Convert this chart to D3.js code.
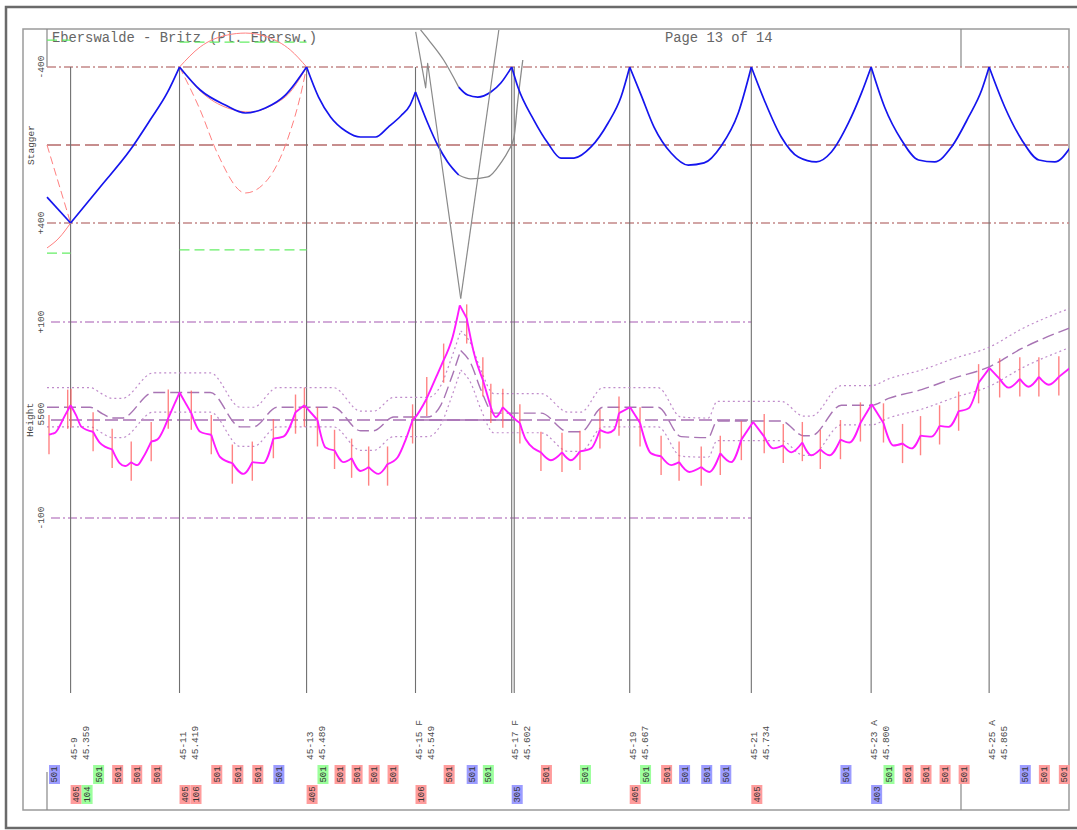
<!DOCTYPE html>
<html>
<head>
<meta charset="utf-8">
<script src="https://cdn.jsdelivr.net/npm/d3@7"></script>
<style>
  body { margin: 0; background: #fff; }
  svg { display: block; }
  text { font-family: "Liberation Mono", "DejaVu Sans Mono", monospace; fill: #4a4a4a; }
</style>
</head>
<body>
<svg id="chart" width="1077" height="830"></svg>
<script>
// ---- page text ----
const title = 'Eberswalde - Britz (Pl. Ebersw.)';
const pageLabel = 'Page 13 of 14';

// ---- masts (chainage in m) ----
const mastAt   = [45359, 45419, 45489, 45549, 45602, 45667, 45734, 45800, 45865];
const mastName = ['45-9', '45-11', '45-13', '45-15 F', '45-17 F', '45-19', '45-21', '45-23 A', '45-25 A'];
const mastKm   = ['45.359', '45.419', '45.489', '45.549', '45.602', '45.667', '45.734', '45.800', '45.865'];
// codes at the mast foot: [code, kind]  kind 1 red, 2 blue, 3 green
const mastCodes = [
  [['405', 1], ['104', 3]], [['405', 1], ['106', 1]], [['405', 1]], [['106', 1]],
  [['305', 2]], [['405', 1]], [['405', 1]], [['403', 2]], []
];
const doubleMast = ['45-17 F'];

// ---- stagger (mm) ----
const staggerTicks = [-400, 400];
const wireA = [[45346, 267], [45359, 400], [45375.3, 215], [45391.8, 26], [45402.8, -128], [45412.2, -267],
  [45419, -400], [45430.4, -282], [45444.2, -205], [45455.3, -164], [45466.3, -190], [45477.3, -256],
  [45489, -400], [45495.6, -246], [45502.2, -144], [45510.5, -72], [45518.7, -41], [45527, -41],
  [45534, -92], [45541, -150], [45546, -205], [45549, -272], [45555.7, -113], [45561.2, 0], [45566.7, 87], [45572.8, 154]];
const wireAOut = [[45572.8, 154], [45579.4, 174], [45588.8, 164], [45596, 92], [45600.4, 26],
  [45603.2, -36], [45605.4, -231], [45608.1, -436]];
const wireBIn = [[45551.8, -590], [45556.3, -538], [45564.5, -436], [45572.8, -297]];
const wireB = [[45572.8, -297], [45577.8, -256], [45583.3, -246], [45590.5, -272], [45596, -318], [45602, -400],
  [45605.4, -297], [45614.2, -128], [45621.9, -10], [45629.1, 67], [45636.3, 67], [45645.7, 10],
  [45655.1, -113], [45662.2, -246], [45667, -400], [45673.3, -256], [45680.4, -92], [45689.8, 41],
  [45699.2, 103], [45708, 92], [45717.4, 5], [45726.8, -164], [45734, -400], [45741.1, -231],
  [45750.5, -41], [45759.9, 62], [45769.8, 87], [45778.1, 36], [45787.5, -113], [45794.7, -267],
  [45800, -400], [45807.4, -195], [45816.7, -26], [45826.1, 77], [45835, 87], [45844.3, 10],
  [45853.7, -144], [45860.9, -282], [45865, -400], [45873.6, -195], [45883, -26], [45892.4, 77],
  [45901.2, 87], [45909.5, 15]];
// wind deflection envelopes
const windOuter = [[45419, -400], [45430.4, -503], [45445.3, -564], [45455.3, -574], [45467.4, -554], [45480.1, -487], [45489, -400]];
const windInner = [[45419, -400], [45433, -256], [45447, -185], [45458, -169], [45469, -200], [45480, -272], [45489, -400]];
const windSwing = [[45419, -400], [45430.4, -179], [45439.8, 41], [45455.3, 246], [45467.4, 179], [45478.4, -26], [45486.7, -297], [45489, -400]];
const windLeftSwing = [[45346, 0], [45359, 400]];
const windLeftOuter = [[45346, 528], [45352.6, 477], [45359, 400]];
// stagger limits: [from, to, mm]
const staggerLimits = [[45346, 45359, -538], [45346, 45359, 554], [45419, 45489, -528], [45419, 45489, 538]];

// ---- height (mm from 5500) ----
const heightTicks = [100, -100];
const tolerance = 20;
const design = [[45346, 13], [45369.7, 13], [45376.9, 6], [45381.9, 2], [45387.4, 2], [45404.5, 28], [45436, 28],
  [45452.5, -7], [45459.7, -7], [45472.9, 13], [45503.8, 13], [45518.7, -11], [45525.9, -11], [45537, 3],
  [45555.7, 3], [45562.9, 15], [45568.4, 41], [45573.9, 71], [45579.4, 58], [45585, 31], [45592.1, 7],
  [45618.1, 7], [45633, -12], [45640.1, -12], [45652.3, 13], [45682.6, 13], [45695.3, -17], [45710.2, -18],
  [45715.2, -1], [45750.5, -1], [45762.7, -16], [45767.1, -16], [45783.6, 15], [45800.2, 15], [45809.6, 22],
  [45827.8, 31], [45846, 43], [45864.7, 54], [45883, 73], [45909.5, 94]];
const measured = [[45347.1, -15], [45349, -14], [45350.5, -13], [45356, 5], [45359, 15], [45362, 5], [45365, -7],
  [45371.4, -12], [45375, -23], [45381.9, -30], [45386, -44], [45389, -47], [45392.4, -43], [45395.7, -46],
  [45399, -38], [45403.4, -22], [45406.7, -20], [45412.8, 2], [45419, 28], [45425.5, 7], [45430.4, -12],
  [45436.5, -15], [45441.5, -38], [45448.1, -44], [45454.2, -55], [45459.1, -43], [45465.2, -44],
  [45470.7, -19], [45476.2, -17], [45482.9, 8], [45487.8, 15], [45495, 0], [45499.4, -28], [45504.4, -31],
  [45509.4, -43], [45513.8, -39], [45518.7, -52], [45523.2, -48], [45528.7, -55], [45533.6, -45],
  [45539.2, -38], [45543.6, -20], [45547.4, 0], [45548.5, 2], [45555.2, 22], [45564.5, 61], [45569.5, 85],
  [45573.4, 117], [45577.2, 104], [45581.1, 69], [45586.1, 41], [45590.5, 13], [45593.2, 3], [45597.1, 13],
  [45600.4, 7], [45604.3, 0], [45606.5, -3], [45609.8, -20], [45618.1, -33], [45623.6, -41], [45629.7, -33],
  [45634.6, -41], [45639.6, -32], [45645.7, -29], [45650.6, -10], [45655.1, -13], [45658.4, -10],
  [45661.1, 7], [45667.2, 13], [45672.7, -3], [45678.8, -34], [45684.3, -37], [45689.8, -46], [45694.2, -43],
  [45699.8, -53], [45706.4, -48], [45710.8, -53], [45716.9, -34], [45722.9, -43], [45728.5, -20],
  [45735, -2], [45741.1, -17], [45746.1, -29], [45751.6, -26], [45756, -33], [45762.1, -23], [45767.1, -36],
  [45772, -30], [45777, -36], [45783.1, -20], [45788.1, -23], [45794.1, -3], [45800.3, 16], [45806.8, -3],
  [45812.3, -26], [45817.3, -24], [45822.3, -29], [45827.2, -16], [45833.3, -17], [45837.7, -6],
  [45842.7, -7], [45848.2, 9], [45853.7, 12], [45859.2, 38], [45865.2, 53], [45870.8, 42], [45875.8, 33],
  [45881.9, 42], [45886.8, 34], [45892.4, 44], [45897.9, 36], [45903.4, 44], [45909.5, 53]];
// droppers: [chainage, mm, kind] kind 0 = no code box
const droppers = [[45347.1, -15, 2], [45357.4, 11, 0], [45359.2, 12, 0], [45371.4, -12, 3], [45381.9, -29, 1],
  [45392.4, -42, 1], [45403.4, -22, 1], [45412.8, 11, 0], [45425.5, 10, 0], [45436.5, -15, 1], [45448.1, -45, 1],
  [45459.1, -42, 1], [45470.7, -19, 2], [45482.9, 6, 0], [45487.8, 13, 0], [45495, -7, 3], [45504.4, -30, 1],
  [45513.8, -39, 1], [45523.2, -47, 1], [45533.6, -47, 1], [45547.4, -4, 0], [45555.2, 24, 0], [45564.5, 58, 1],
  [45577.2, 98, 2], [45586.1, 44, 3], [45590.5, 17, 0], [45597.1, 12, 0], [45606.5, -4, 0], [45618.1, -32, 1],
  [45629.7, -33, 0], [45639.6, -31, 3], [45650.6, -9, 0], [45661.1, 4, 0], [45672.7, -7, 3], [45684.3, -36, 1],
  [45694.2, -42, 2], [45706.4, -47, 2], [45716.9, -36, 2], [45728.5, -21, 0], [45741.1, -14, 0], [45751.6, -24, 0],
  [45762.1, -22, 0], [45772, -30, 0], [45783.1, -20, 2], [45794.1, -2, 0], [45806.8, -3, 3], [45817.3, -24, 1],
  [45827.2, -16, 1], [45837.7, -5, 1], [45848.2, 9, 1], [45859.2, 37, 0], [45870.8, 43, 0], [45881.9, 44, 2],
  [45892.4, 44, 1], [45903.4, 45, 1]];
const dropperCode = '501';
// second wire height in the overlap
const otherWireA = [[45549.1, 396], [45554.6, 339], [45555.7, 364], [45573.9, 124]];
const otherWireB = [[45594.9, 398], [45573.9, 124]];

// ---- layout ----
const frame = { left: 23, top: 29, right: 1069, bottom: 810 };
const plotLeft = 47, plotBottom = 693;
const svg = d3.select('#chart');

const x = d3.scaleLinear().domain([45346, 45909]).range([plotLeft, frame.right]);
const yS = d3.scaleLinear().domain([-400, 400]).range([67, 223]);
const yH = d3.scaleLinear().domain([100, -100]).range([322, 518]);
const boxColor = d3.scaleOrdinal().domain([1, 2, 3]).range(['#ff9c9c', '#9c9cff', '#9cff9c']);

svg.append('rect').attr('width', 1077).attr('height', 830).attr('fill', '#fff');

// frames
svg.append('rect').attr('x', 6).attr('y', 7).attr('width', 1085).attr('height', 821)
  .attr('fill', 'none').attr('stroke', '#6a6a6a').attr('stroke-width', 2.5);
svg.append('rect').attr('x', frame.left).attr('y', frame.top)
  .attr('width', frame.right - frame.left).attr('height', frame.bottom - frame.top)
  .attr('fill', 'none').attr('stroke', '#9a9a9a').attr('stroke-width', 1.5);
[[plotLeft, frame.top, 67], [961, frame.top, 67], [plotLeft, 772, frame.bottom], [961, 783, frame.bottom]]
  .forEach(([lx, a, b]) => svg.append('line').attr('x1', lx).attr('x2', lx).attr('y1', a).attr('y2', b)
    .attr('stroke', '#888').attr('stroke-width', 1.2));

svg.append('text').attr('x', 52).attr('y', 42).attr('font-size', 13.8).style('fill', '#666').text(title);
svg.append('text').attr('x', 665).attr('y', 42).attr('font-size', 13.8).style('fill', '#666').text(pageLabel);

svg.append('defs').append('clipPath').attr('id', 'clip').append('rect')
  .attr('x', frame.left).attr('y', frame.top)
  .attr('width', frame.right - frame.left).attr('height', frame.bottom - frame.top);
const plot = svg.append('g').attr('clip-path', 'url(#clip)');

function vtext(g, px, py, str, anchor, size) {
  return g.append('text').attr('transform', `translate(${px},${py}) rotate(-90)`)
    .attr('text-anchor', anchor).attr('font-size', size).text(str);
}

// split a polyline at cusps so each piece is smoothed on its own
function pieces(pts, isCusp) {
  const out = [];
  let cur = [];
  pts.forEach((p, i) => {
    cur.push(p);
    if (i > 0 && i < pts.length - 1 && isCusp(p, i)) { out.push(cur); cur = [p]; }
  });
  out.push(cur);
  return out;
}
const localMax = arr => (p, i) => p[1] > arr[i - 1][1] && p[1] > arr[i + 1][1];
const atMast = p => mastAt.some(m => Math.abs(m - p[0]) < 1.5);

const lineS = d3.line().x(d => x(d[0])).y(d => yS(d[1])).curve(d3.curveMonotoneX);
const lineH = d3.line().x(d => x(d[0])).y(d => yH(d[1])).curve(d3.curveMonotoneX);

function path(gen, pts, stroke, width, dash) {
  plot.append('path').attr('d', gen(pts)).attr('fill', 'none')
    .attr('stroke', stroke).attr('stroke-width', width)
    .attr('stroke-dasharray', dash || null).attr('stroke-linejoin', 'round');
}

// ---- stagger reference lines ----
staggerTicks.forEach(v => plot.append('line').attr('x1', plotLeft).attr('x2', frame.right)
  .attr('y1', yS(v)).attr('y2', yS(v)).attr('stroke', '#c48888').attr('stroke-width', 1.4)
  .attr('stroke-dasharray', '9,3,2,3'));
plot.append('line').attr('x1', plotLeft).attr('x2', frame.right).attr('y1', yS(0)).attr('y2', yS(0))
  .attr('stroke', '#b56a6a').attr('stroke-width', 1.6).attr('stroke-dasharray', '14,5');

// ---- height reference lines (end at mast 45-21) ----
const refEnd = x(mastAt[6]);
heightTicks.forEach(v => plot.append('line').attr('x1', plotLeft + 4).attr('x2', refEnd)
  .attr('y1', yH(v)).attr('y2', yH(v)).attr('stroke', '#c490cc').attr('stroke-width', 1.5)
  .attr('stroke-dasharray', '9,3,2,3'));
plot.append('line').attr('x1', plotLeft + 4).attr('x2', refEnd).attr('y1', yH(0)).attr('y2', yH(0))
  .attr('stroke', '#a870b4').attr('stroke-width', 1.4).attr('stroke-dasharray', '13,5');
plot.append('line').attr('x1', x(mastAt[3])).attr('x2', x(mastAt[4])).attr('y1', yH(0)).attr('y2', yH(0))
  .attr('stroke', '#a870b4').attr('stroke-width', 1.4);

// ---- masts ----
mastAt.forEach((m, i) => {
  const offs = doubleMast.includes(mastName[i]) ? [0, 2.5] : [0];
  offs.forEach(o => plot.append('line').attr('x1', x(m) + o).attr('x2', x(m) + o)
    .attr('y1', yS(-400)).attr('y2', plotBottom).attr('stroke', '#707070').attr('stroke-width', 1.1));
});

// ---- stagger limits and wind envelopes ----
staggerLimits.forEach(([a, b, v]) => plot.append('line').attr('x1', x(a)).attr('x2', x(b))
  .attr('y1', yS(v)).attr('y2', yS(v)).attr('stroke', '#66ee66').attr('stroke-width', 1.3)
  .attr('stroke-dasharray', '10,5'));
path(lineS, windOuter, '#ff8080', 1);
path(lineS, windInner, '#ff8080', 1);
path(lineS, windSwing, '#ff8080', 1, '8,4');
path(lineS, windLeftSwing, '#ff8080', 1, '8,4');
path(lineS, windLeftOuter, '#ff8080', 1);

// ---- contact wire stagger ----
path(lineS, wireBIn, '#8a8a8a', 1.3);
path(lineS, wireAOut, '#8a8a8a', 1.3);
pieces(wireA, atMast).forEach(p => path(lineS, p, '#1515ee', 1.7));
pieces(wireB, atMast).forEach(p => path(lineS, p, '#1515ee', 1.7));

// ---- design height and tolerance band ----
const designPieces = pieces(design, localMax(design));
designPieces.forEach(p => {
  path(lineH, p.map(d => [d[0], d[1] + tolerance]), '#c08ccb', 1.2, '2,3');
  path(lineH, p, '#a874b4', 1.4, '12,5');
  path(lineH, p.map(d => [d[0], d[1] - tolerance]), '#c08ccb', 1.2, '2,3');
});

// second wire in the overlap
const lineHL = d3.line().x(d => x(d[0])).y(d => yH(d[1]));
path(lineHL, otherWireA, '#8a8a8a', 1.2);
path(lineHL, otherWireB, '#8a8a8a', 1.2);

// ---- droppers ----
plot.selectAll('.dropper').data(droppers).join('line').attr('class', 'dropper')
  .attr('x1', d => x(d[0])).attr('x2', d => x(d[0]))
  .attr('y1', d => yH(d[1] + 20)).attr('y2', d => yH(d[1] - 20))
  .attr('stroke', '#ff6464').attr('stroke-width', 1.4).attr('stroke-opacity', 0.8);

// ---- measured height ----
const dropAt = droppers.map(d => d[0]);
const cuspM = (p, i) => localMax(measured)(p, i) || dropAt.some(a => Math.abs(a - p[0]) < 0.3);
pieces(measured, cuspM).forEach(p => path(lineH, p, '#ff1aff', 1.9));

// ---- axis labels ----
const axisG = svg.append('g');
staggerTicks.forEach(v => vtext(axisG, 44, yS(v), v > 0 ? '+' + v : String(v), 'middle', 9.5));
vtext(axisG, 34, yS(0), 'Stagger', 'middle', 9.5);
heightTicks.forEach(v => vtext(axisG, 44, yH(v), v > 0 ? '+' + v : String(v), 'middle', 9.5));
vtext(axisG, 33, yH(0), 'Height', 'middle', 9.5);
vtext(axisG, 44, yH(0) - 6, '5500', 'middle', 9.5);

// ---- mast labels and codes ----
const foot = svg.append('g');
const bw = 11, bh = 19, rowTop = 765, rowLow = 785;
mastAt.forEach((m, i) => {
  vtext(foot, x(m) + 6, 760, mastName[i], 'start', 9.5);
  vtext(foot, x(m) + 18, 760, mastKm[i], 'start', 9.5);
  mastCodes[i].forEach(([code, kind], j) => {
    const bx = x(m) + j * bw;
    foot.append('rect').attr('x', bx).attr('y', rowLow).attr('width', bw).attr('height', bh)
      .attr('fill', boxColor(kind));
    vtext(foot, bx + bw / 2 + 3, rowLow + bh / 2, code, 'middle', 9).style('fill', '#333');
  });
});
droppers.filter(d => d[2] > 0).forEach(d => {
  const bx = x(d[0]);
  foot.append('rect').attr('x', bx).attr('y', rowTop).attr('width', bw).attr('height', bh)
    .attr('fill', boxColor(d[2]));
  vtext(foot, bx + bw / 2 + 3, rowTop + bh / 2, dropperCode, 'middle', 9).style('fill', '#333');
});
</script>
</body>
</html>
